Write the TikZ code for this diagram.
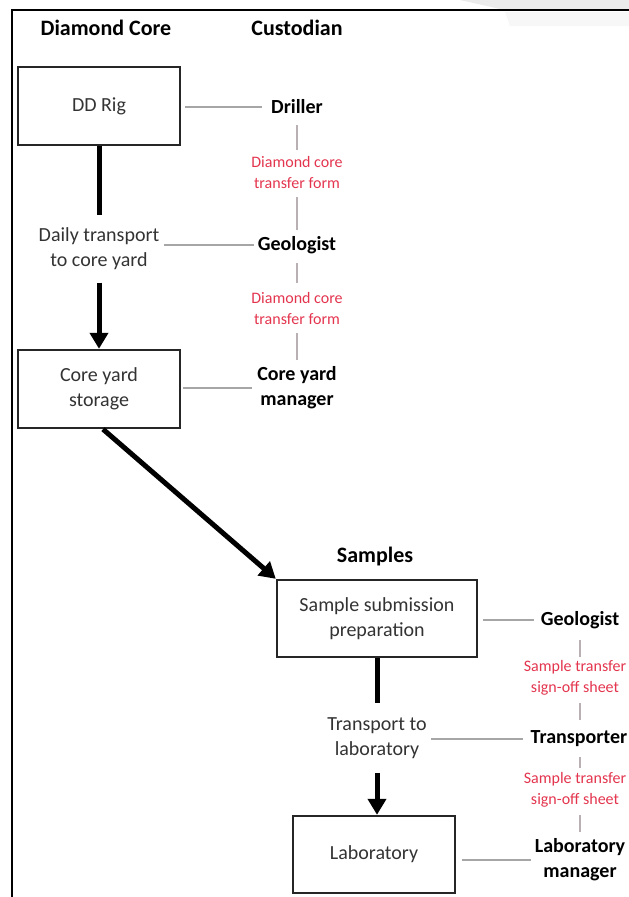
\documentclass[tikz,border=0pt]{standalone}
\usepackage{fontspec}
\setmainfont{Carlito}
\usetikzlibrary{arrows.meta,calc}
\definecolor{formred}{HTML}{E3354E}
\definecolor{linkgray}{HTML}{A6A6A6}
\definecolor{vgray}{HTML}{B8B0B2}
\begin{document}
\begin{tikzpicture}[x=1pt,y=-1pt,
  stepbox/.style={draw=black!85, line width=2.4pt, align=center, inner sep=0pt,
    text=black!80, font=\fontsize{20}{25}\selectfont},
  plain/.style={align=center, inner sep=0pt, text=black!80, font=\fontsize{20}{25}\selectfont},
  header/.style={inner sep=0pt, font=\fontsize{22}{26}\selectfont\bfseries},
  cust/.style={align=center, inner sep=0pt, font=\fontsize{20}{25}\selectfont\bfseries},
  form/.style={align=center, inner sep=0pt, text=formred, font=\fontsize{16}{21}\selectfont},
  flow/.style={line width=5pt, black},
  flowarrow/.style={flow, -{Triangle[length=16pt,width=18pt]}},
  link/.style={linkgray, line width=2.2pt},
  vlink/.style={vgray, line width=1.4pt}
]
\useasboundingbox (0,0) rectangle (629,897);
% faint background mark
\fill[gray!16] (460,0) -- (629,0) -- (629,9) -- (500,9) -- cycle;
\fill[gray!6] (505,12) -- (629,12) -- (629,26) -- (510,26) -- cycle;
% frame
\draw[line width=2pt] (12,897) -- (12,10) -- (629,10);

% headers
\node[header] (hcore) at (106,28) {Diamond Core};
\node[header] (hcust) at (297,28) {Custodian};
\node[header] (hsamp) at (375,557) {Samples};

% left flow
\node[stepbox, minimum width=162pt, minimum height=78pt] (rig) at (99,106) {DD Rig};
\node[plain, minimum height=67pt] (daily) at (99,249) {Daily transport\\to core yard};
\node[stepbox, minimum width=162pt, minimum height=78pt] (core) at (99,389) {Core yard\\storage};

% custodians top
\node[cust] (driller) at (297,107) {Driller};
\node[form] (form1) at (297,173) {Diamond core\\transfer form};
\node[cust] (geo1) at (297,245) {Geologist};
\node[form] (form2) at (297,308) {Diamond core\\transfer form};
\node[cust] (cym) at (297,388) {Core yard\\manager};

% samples flow
\node[stepbox, minimum width=200pt, minimum height=77pt] (sample) at (377,618.5) {Sample submission\\preparation};
\node[plain, minimum height=69pt] (transport) at (377,738) {Transport to\\laboratory};
\node[stepbox, minimum width=162pt, minimum height=77pt] (lab) at (374,854.5) {Laboratory};

% custodians bottom
\node[cust] (geo2) at (580,620) {Geologist};
\node[form] (form3) at (575,678) {Sample transfer\\sign-off sheet};
\node[cust] (trans) at (579,739) {Transporter};
\node[form] (form4) at (575,790) {Sample transfer\\sign-off sheet};
\node[cust] (labm) at (580,860) {Laboratory\\manager};

% flow connectors
\draw[flow] (rig.south) -- (daily.north);
\draw[flowarrow] (daily.south) -- (core.north);
\draw[flowarrow] ([xshift=4pt]core.south) -- (sample.north west);
\draw[flow] (sample.south) -- (transport.north);
\draw[flowarrow] (transport.south) -- (lab.north -| transport.south);

% horizontal custodian links
\draw[link, shorten <=4pt, shorten >=9pt] (rig.east |- driller.west) -- (driller.west);
\draw[link, shorten <=5pt, shorten >=4pt] (daily.east |- geo1.west) -- (geo1.west);
\draw[link, shorten <=2pt, shorten >=5pt] (core.east |- cym.west) -- (cym.west);
\draw[link, shorten <=5pt, shorten >=7pt] (sample.east |- geo2.west) -- (geo2.west);
\draw[link, shorten <=4pt, shorten >=8pt] (transport.east |- trans.west) -- (trans.west);
\draw[link, shorten <=6pt, shorten >=4pt] (lab.east |- labm.west) -- (labm.west);

% vertical hand-over links
\draw[vlink, shorten <=18pt, shorten >=23pt] (driller.center) -- (form1.center);
\draw[vlink, shorten <=24pt, shorten >=15pt] (form1.center) -- (geo1.center);
\draw[vlink, shorten <=18pt, shorten >=25pt] (geo1.center) -- (form2.center);
\draw[vlink, shorten <=25pt, shorten >=28pt] (form2.center) -- (cym.center);
\draw[vlink, shorten <=20pt, shorten >=21pt] (geo2.center) -- (form3.center -| geo2.center);
\draw[vlink, shorten <=25pt, shorten >=19pt] (form3.center -| geo2.center) -- (geo2.center |- trans.center);
\draw[vlink, shorten <=18pt, shorten >=22pt] (geo2.center |- trans.center) -- (form4.center -| geo2.center);
\draw[vlink, shorten <=25pt, shorten >=28pt] (form4.center -| geo2.center) -- (labm.center);
\end{tikzpicture}
\end{document}
